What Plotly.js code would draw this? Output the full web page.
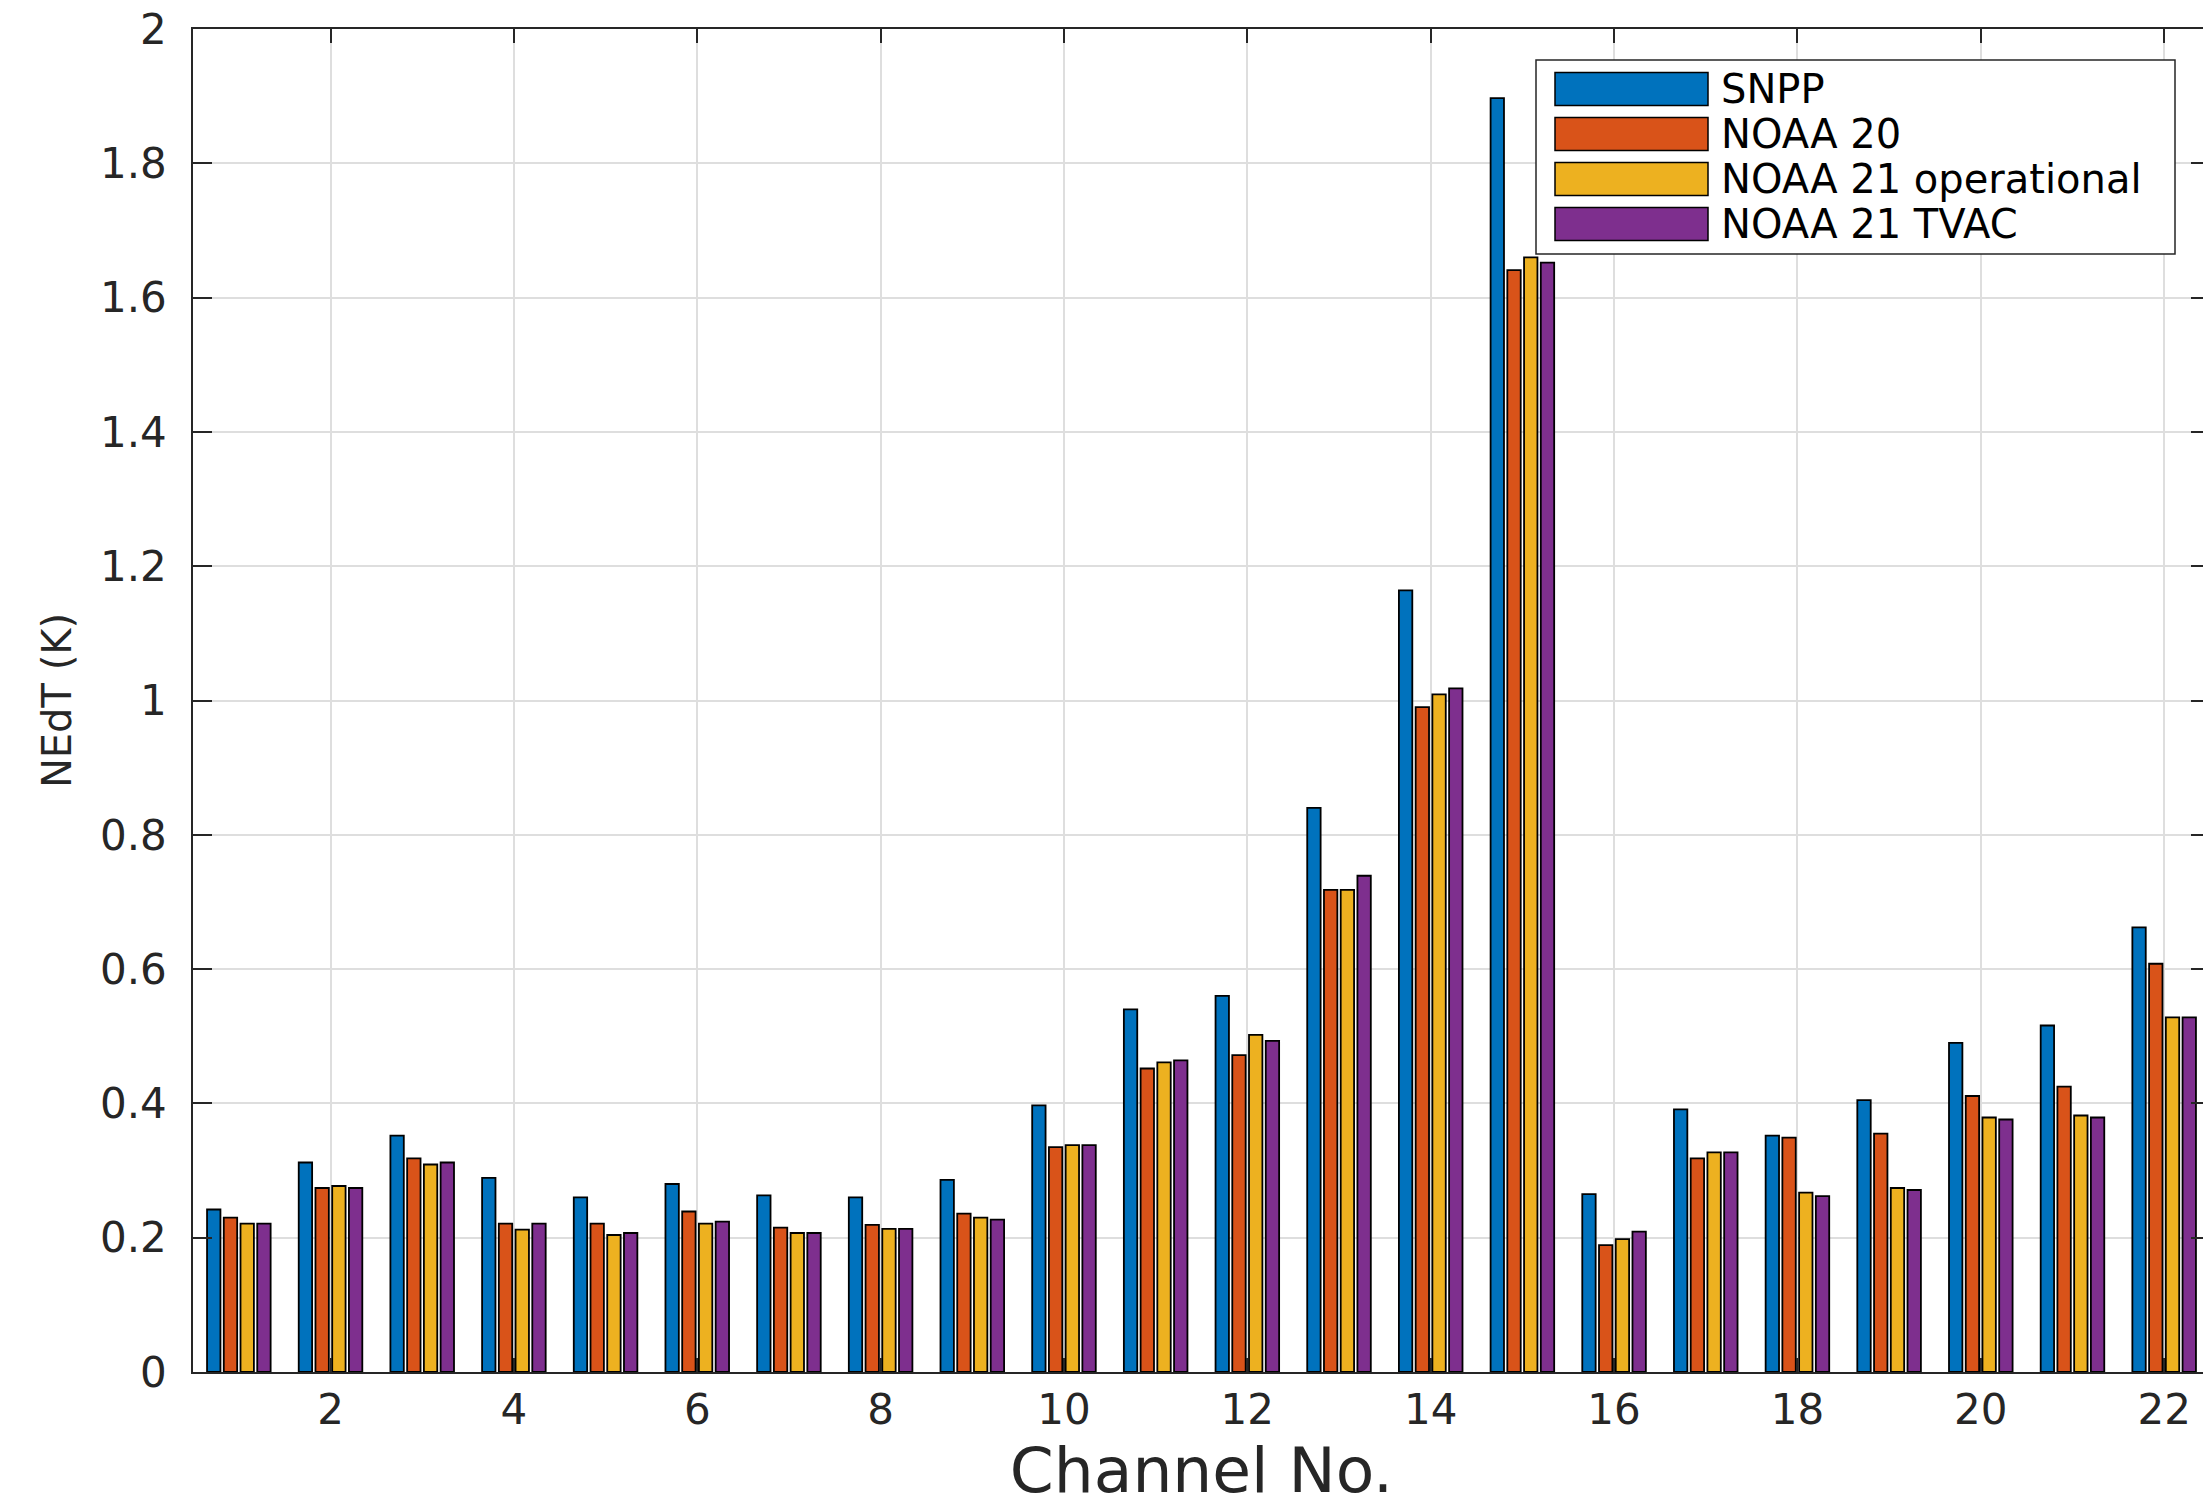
<!DOCTYPE html>
<html>
<head>
<meta charset="utf-8">
<script src="https://cdn.plot.ly/plotly-3.0.1.min.js"></script>
<style>
html,body{margin:0;padding:0;overflow:hidden;background:#fff;}
#chart{width:2240px;height:1507px;}
</style>
</head>
<body>
<div id="chart"></div>
<script>
// Channel numbers
const channels = [1,2,3,4,5,6,7,8,9,10,11,12,13,14,15,16,17,18,19,20,21,22];
// NEdT (K) per channel
const snpp    = [0.242,0.312,0.352,0.289,0.260,0.280,0.263,0.260,0.286,0.397,0.540,0.560,0.840,1.164,1.897,0.265,0.391,0.352,0.405,0.490,0.516,0.662];
const noaa20  = [0.230,0.274,0.318,0.221,0.221,0.239,0.215,0.219,0.236,0.335,0.452,0.472,0.718,0.990,1.641,0.189,0.318,0.349,0.355,0.411,0.425,0.608];
const n21op   = [0.221,0.277,0.309,0.212,0.204,0.221,0.207,0.213,0.230,0.338,0.461,0.502,0.718,1.009,1.660,0.198,0.327,0.267,0.274,0.379,0.382,0.528];
const n21tvac = [0.221,0.274,0.312,0.221,0.207,0.224,0.207,0.213,0.227,0.338,0.464,0.493,0.739,1.018,1.652,0.209,0.327,0.262,0.271,0.376,0.379,0.528];
const seriesNames = ['SNPP','NOAA 20','NOAA 21 operational','NOAA 21 TVAC'];
const seriesColors = ['#0072BD','#D95319','#EDB120','#7E2F8E'];
const yTickVals = [0,0.2,0.4,0.6,0.8,1,1.2,1.4,1.6,1.8,2];
const yTickText = ['0','0.2','0.4','0.6','0.8','1','1.2','1.4','1.6','1.8','2'];
const xTickVals = [2,4,6,8,10,12,14,16,18,20,22];
const xTickText = ['2','4','6','8','10','12','14','16','18','20','22'];

const allSeries = [snpp, noaa20, n21op, n21tvac];
const traces = allSeries.map((vals, i) => ({
  type: 'bar',
  x: channels,
  y: vals,
  name: seriesNames[i],
  marker: {color: seriesColors[i], line: {color: '#000000', width: 1.8}},
  hoverinfo: 'x+y+name'
}));

const textColor = '#262626';
const fontFam = 'DejaVu Sans, Liberation Sans, Arial, sans-serif';

// Plot-area geometry (px) and legend box layout (px)
const M = {l: 193, r: 30, t: 29, b: 135};
const W = 2240, H = 1507;
const plotW = W - M.l - M.r, plotH = H - M.t - M.b;
const px = x => (x - M.l) / plotW;
const py = y => (H - M.b - y) / plotH;

const LEG = {x0: 1536, x1: 2175, y0: 60, y1: 254, swX0: 1555, swX1: 1708, swH: 33, textX: 1719, rowY0: 89, rowStep: 45};

const shapes = [{
  type: 'rect', xref: 'paper', yref: 'paper',
  x0: px(LEG.x0), x1: px(LEG.x1), y0: py(LEG.y1), y1: py(LEG.y0),
  line: {color: textColor, width: 1.5}, fillcolor: '#ffffff', layer: 'above'
}];
const annotations = [];
seriesNames.forEach((nm, i) => {
  const cy = LEG.rowY0 + i * LEG.rowStep;
  shapes.push({
    type: 'rect', xref: 'paper', yref: 'paper',
    x0: px(LEG.swX0), x1: px(LEG.swX1), y0: py(cy + LEG.swH / 2), y1: py(cy - LEG.swH / 2),
    line: {color: '#000000', width: 1.5}, fillcolor: seriesColors[i], layer: 'above'
  });
  annotations.push({
    xref: 'paper', yref: 'paper', x: px(LEG.textX), y: py(cy),
    xanchor: 'left', yanchor: 'middle', showarrow: false,
    text: nm, font: {family: fontFam, size: 40, color: '#000000'}
  });
});

const layout = {
  width: W,
  height: H,
  margin: {l: M.l, r: M.r, t: M.t, b: M.b, pad: 0},
  paper_bgcolor: '#ffffff',
  plot_bgcolor: '#ffffff',
  font: {family: fontFam, color: textColor, size: 40},
  barmode: 'group',
  bargap: 0.27,
  bargroupgap: 0.2,
  showlegend: false,
  shapes: shapes,
  annotations: annotations,
  xaxis: {
    range: [0.5, 22.5],
    tickmode: 'array', tickvals: xTickVals, ticktext: xTickText,
    ticks: 'inside', ticklen: 14, tickwidth: 1.5, tickcolor: textColor,
    showline: true, linecolor: textColor, linewidth: 1.5, mirror: 'ticks',
    showgrid: true, gridcolor: '#dedede', gridwidth: 1.5,
    zeroline: false,
    tickfont: {family: fontFam, size: 42, color: textColor},
    ticklabelstandoff: 0,
    title: {text: 'Channel No.', font: {family: fontFam, size: 63, color: textColor}, standoff: 42},
    automargin: false,
    fixedrange: true
  },
  yaxis: {
    range: [0, 2],
    tickmode: 'array', tickvals: yTickVals, ticktext: yTickText,
    ticks: 'inside', ticklen: 19, tickwidth: 1.5, tickcolor: textColor,
    showline: true, linecolor: textColor, linewidth: 1.5, mirror: 'ticks',
    showgrid: true, gridcolor: '#dedede', gridwidth: 1.5,
    zeroline: false,
    tickfont: {family: fontFam, size: 42, color: textColor},
    ticklabelstandoff: 16,
    title: {text: 'NEdT (K)', font: {family: fontFam, size: 40, color: textColor}, standoff: 16},
    automargin: false,
    fixedrange: true
  }
};

Plotly.newPlot('chart', traces, layout, {displayModeBar: false, responsive: false});
</script>
</body>
</html>
